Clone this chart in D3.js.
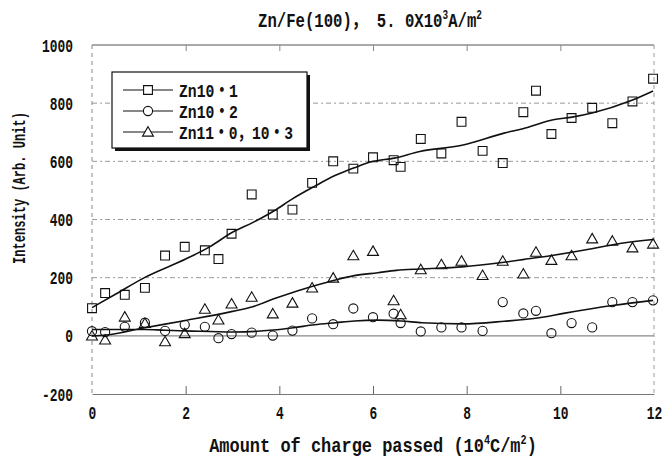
<!DOCTYPE html>
<html><head><meta charset="utf-8">
<script src="https://cdn.jsdelivr.net/npm/d3@7"></script>
<style>
body{margin:0;background:#fff;}
svg{display:block;}
text{font-family:'Liberation Mono','DejaVu Sans Mono','Noto Sans CJK JP',monospace;font-weight:bold;fill:#111;}
</style></head><body>
<svg id="c" width="665" height="459"></svg>
<script>
// ---- data ----
const xValues = [0,0.28,0.70,1.13,1.56,1.98,2.41,2.70,2.98,3.41,3.86,4.28,4.70,5.15,5.58,6.00,6.44,6.59,7.02,7.46,7.89,8.34,8.77,9.21,9.48,9.81,10.24,10.68,11.11,11.54,11.98];
const zn101 = [95,147,141,165,276,306,294,264,351,486,417,434,526,600,575,614,604,581,677,627,736,636,594,769,843,694,749,784,731,806,884];
const zn102 = [16,13,31,45,17,38,31,-8,6,11,1,18,60,40,94,64,76,44,15,29,29,17,116,77,86,9,44,29,116,116,122];
const zn110 = [0,-14,65,43,-20,8,92,55,110,133,76,113,165,199,276,291,121,73,228,245,257,208,257,213,288,260,276,334,326,303,316];

const fit101X = [0,0.5,1.13,2.0,2.5,3.0,3.45,3.9,4.28,4.75,5.2,5.6,6.0,6.45,7.0,7.9,8.8,9.2,9.85,10.25,10.7,11.5,11.98];
const fit101Y = [97,143,201,264,305,356,391,431,471,514,552,578,600,611,634,655,697,712,743,752,767,808,842];
const fit102X = [0,1.13,1.56,2.0,3.0,3.87,4.3,4.75,5.2,5.6,6.1,6.6,7.05,7.9,8.8,9.55,10.1,11.15,11.98];
const fit102Y = [22,22,19,17,13,20,28,38,45,51,54,51,45,41,50,62,78,105,122];
const fit110X = [0,0.3,1.13,2.0,3.0,3.45,3.9,4.3,4.75,5.2,5.6,6.1,6.5,7.0,7.9,8.8,9.2,9.85,10.7,11.15,11.98];
const fit110Y = [0,3,28,53,84,101,128,150,172,192,207,217,225,230,237,253,262,277,300,314,331];

const seriesNames = ["Zn10・1","Zn10・2","Zn11・0，10・3"];
const xTicks = [0,2,4,6,8,10,12];
const yTicks = [-200,0,200,400,600,800,1000];
const titleText = ["Zn/Fe(100)， 5. 0X10","3","A/m","2"];
const xTitleText = ["Amount of charge passed (10","4","C/m","2",")"];
const yTitleText = "Intensity (Arb. Unit)";

// ---- drawing ----
const svg = d3.select("#c");
const x = d3.scaleLinear().domain([0,12]).range([92,654]);
const y = d3.scaleLinear().domain([-200,1000]).range([394,45]);

function squeeze(sel, sx, extra){
  const xx = +(sel.attr("x")||0), yy = +(sel.attr("y")||0);
  sel.attr("x",null).attr("y",null)
     .attr("transform",`translate(${xx},${yy}) ${extra||""} scale(${sx},1)`);
}
function fitScale(sel, target, extra){
  const w = sel.node().getComputedTextLength();
  squeeze(sel, target / w, extra);
}

// grid
const grid = svg.append("g");
grid.selectAll("line.h").data([200,400,600,800]).join("line")
  .attr("x1",x(0)).attr("x2",x(12)).attr("y1",d=>y(d)).attr("y2",d=>y(d))
  .attr("stroke","#9a9a9a").attr("stroke-width",1).attr("stroke-dasharray","5,3,2,3");
grid.append("line").attr("x1",x(0)).attr("x2",x(12)).attr("y1",y(0)).attr("y2",y(0))
  .attr("stroke","#888").attr("stroke-width",1.2);
grid.append("line").attr("x1",x(0)).attr("x2",x(12)).attr("y1",y(1000)).attr("y2",y(1000))
  .attr("stroke","#555").attr("stroke-width",1);
grid.append("line").attr("x1",x(0)).attr("x2",x(0)).attr("y1",y(1000)).attr("y2",y(-200))
  .attr("stroke","#888").attr("stroke-dasharray","4,4");
grid.append("line").attr("x1",x(12)).attr("x2",x(12)).attr("y1",y(1000)).attr("y2",y(-200))
  .attr("stroke","#999").attr("stroke-dasharray","4,4");

// axes
const xAxis = svg.append("g").attr("transform",`translate(0,${y(-200)})`)
  .call(d3.axisBottom(x).tickValues(xTicks).tickFormat(d=>String(d))
        .tickSizeInner(-8).tickSizeOuter(0).tickPadding(11));
xAxis.select(".domain").attr("stroke","#777");
xAxis.selectAll(".tick line").attr("stroke","#666");
xAxis.selectAll(".tick text").attr("font-size",19).attr("fill","#111")
  .each(function(){ squeeze(d3.select(this), 0.68); });
xAxis.selectAll(".tick").filter(d=>d===0||d===12).select("line").remove();

const topAxis = svg.append("g").attr("transform",`translate(0,${y(1000)})`)
  .call(d3.axisTop(x).tickValues([2,4,6,8,10]).tickSizeInner(-6).tickSizeOuter(0).tickFormat(""));
topAxis.select(".domain").remove();
topAxis.selectAll(".tick line").attr("stroke","#888");

const yAxis = svg.append("g").attr("transform",`translate(${x(0)},0)`)
  .call(d3.axisLeft(y).tickValues(yTicks).tickFormat(d=>String(d)).tickSize(0).tickPadding(19));
yAxis.select(".domain").remove();
yAxis.selectAll(".tick text").attr("font-size",19).attr("fill","#111")
  .each(function(){ squeeze(d3.select(this), 0.68); });
svg.selectAll("g").attr("font-family",null);

// fit lines
const line = d3.line().x(d=>x(d[0])).y(d=>y(d[1])).curve(d3.curveMonotoneX);
[[fit101X,fit101Y],[fit102X,fit102Y],[fit110X,fit110Y]].forEach(([fx,fy])=>{
  svg.append("path").datum(fx.map((v,i)=>[v,fy[i]])).attr("d",line)
    .attr("fill","none").attr("stroke","#111").attr("stroke-width",1.6);
});

// markers
const sym = [d3.symbolSquare, d3.symbolCircle, d3.symbolTriangle];
const symSize = [78, 66, 52];
const series = [zn101, zn102, zn110];
series.forEach((vals,k)=>{
  svg.append("g").selectAll("path").data(vals.map((v,i)=>[xValues[i],v])).join("path")
    .attr("transform",d=>`translate(${x(d[0])},${y(d[1]) + (k===2?1:0)})`)
    .attr("d",d3.symbol(sym[k],symSize[k]))
    .attr("fill","none").attr("stroke","#111").attr("stroke-width",1.1);
});

// legend
const lg = svg.append("g");
lg.append("rect").attr("x",115).attr("y",75).attr("width",195).attr("height",76).attr("fill","#111");
lg.append("rect").attr("x",112).attr("y",72).attr("width",195).attr("height",76)
  .attr("fill","#fff").attr("stroke","#111").attr("stroke-width",1.2);
const rowsY = [90,111,132];
const legendW = [59,59,114];
seriesNames.forEach((nm,k)=>{
  lg.append("line").attr("x1",123).attr("x2",173).attr("y1",rowsY[k]).attr("y2",rowsY[k])
    .attr("stroke","#111").attr("stroke-width",1.2);
  lg.append("path").attr("transform",`translate(148,${rowsY[k] + (k===2?1:0)})`)
    .attr("d",d3.symbol(sym[k],symSize[k])).attr("fill","#fff").attr("stroke","#111").attr("stroke-width",1.1);
  const t = lg.append("text").attr("x",179).attr("y",rowsY[k]+6.5).attr("font-size",19).text(nm);
  fitScale(t, legendW[k]);
});

// title
const tt = svg.append("text").attr("x",370).attr("y",27).attr("text-anchor","middle").attr("font-size",20);
tt.append("tspan").text(titleText[0]);
tt.append("tspan").attr("font-size",12).attr("dy",-8).text(titleText[1]);
tt.append("tspan").attr("dy",8).text(titleText[2]);
tt.append("tspan").attr("font-size",12).attr("dy",-8).text(titleText[3]);
fitScale(tt, 224);

// x title
const xt = svg.append("text").attr("x",373).attr("y",452).attr("text-anchor","middle").attr("font-size",20);
xt.append("tspan").text(xTitleText[0]);
xt.append("tspan").attr("font-size",12).attr("dy",-8).text(xTitleText[1]);
xt.append("tspan").attr("dy",8).text(xTitleText[2]);
xt.append("tspan").attr("font-size",12).attr("dy",-8).text(xTitleText[3]);
xt.append("tspan").attr("dy",8).text(xTitleText[4]);
fitScale(xt, 328);

// y title
const yt = svg.append("text").attr("x",25).attr("y",188)
  .attr("text-anchor","middle").attr("font-size",19).text(yTitleText);
fitScale(yt, 152, "rotate(-90)");
</script>
</body></html>
